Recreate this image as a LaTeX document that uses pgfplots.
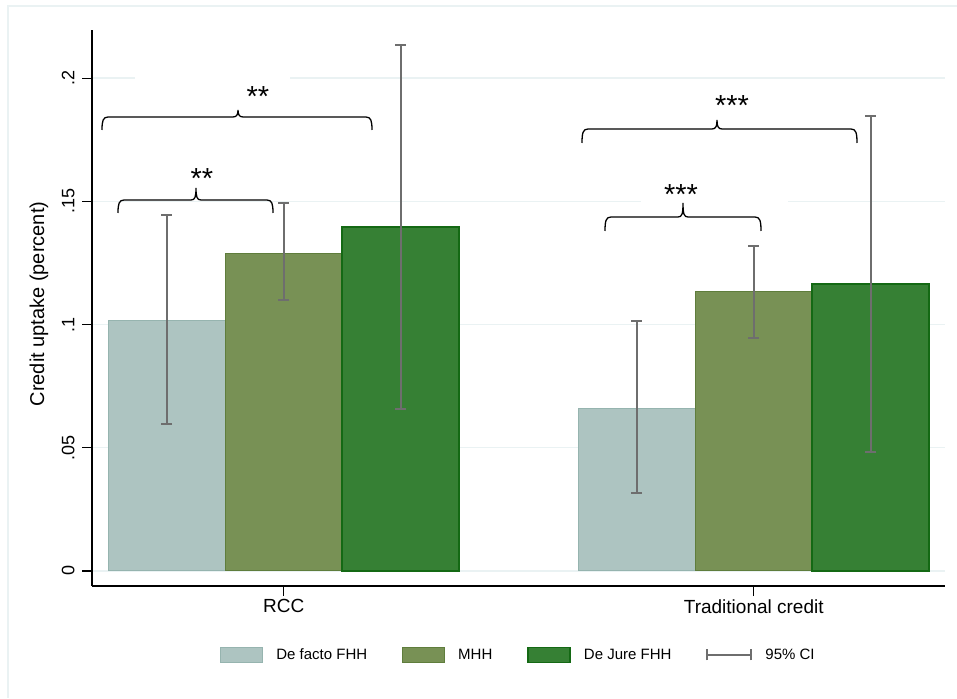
\documentclass[border=0pt]{standalone}
\usepackage{pgfplots}
\pgfplotsset{compat=1.18}
\usepackage{pgfplotstable}
\usepackage{fontspec}
\setmainfont{Liberation Sans}
\definecolor{dfFill}{RGB}{173,196,193}
\definecolor{dfEdge}{RGB}{150,180,175}
\definecolor{mhhFill}{RGB}{120,145,85}
\definecolor{mhhEdge}{RGB}{95,125,60}
\definecolor{djFill}{RGB}{54,128,52}
\definecolor{djEdge}{RGB}{20,105,20}
\definecolor{ciC}{RGB}{110,110,110}
\definecolor{gridC}{RGB}{234,242,243}

% x: 0 = RCC, 1 = Traditional credit (bars shifted by 0.249)
\pgfplotstableread{
x y ep em
-0.249 0.1018 0.0426 0.0422
0.751 0.0661 0.0353 0.0345
}\dfdata
\pgfplotstableread{
x y ep em
0 0.1290 0.0203 0.0191
1 0.1132 0.0186 0.0187
}\mhhdata
\pgfplotstableread{
x y ep em
0.249 0.1395 0.0739 0.0738
1.249 0.1164 0.0682 0.0681
}\djdata

\newcommand{\Brace}[6]{% x1 x2 xtip yline yend ytip (image px, y down)
 \draw[line width=1.3pt, black] (#1,#5) .. controls (#1,{#4+4}) and ({#1+1},#4) .. ({#1+6},#4)
 -- ({#3-5},#4) .. controls ({#3-1},#4) and (#3,{#4-3}) .. (#3,#6)
 .. controls (#3,{#4-3}) and ({#3+1},#4) .. ({#3+5},#4)
 -- ({#2-6},#4) .. controls ({#2-1},#4) and (#2,{#4+4}) .. (#2,#5);}

\begin{document}
\begin{tikzpicture}
\begin{axis}[
  at={(0,0)}, anchor=south west, scale only axis,
  width=853pt, height=556pt,
  xmin=-0.408, xmax=1.407, ymin=-0.00609, ymax=0.2195,
  axis x line*=bottom, axis y line*=left,
  axis line style={-, black, line width=1.1pt},
  xtick={0,1}, xticklabels={RCC,Traditional credit},
  ytick={0,0.05,0.1,0.15,0.2}, yticklabels={0,.05,.1,.15,.2},
  tick align=outside, major tick length=10pt,
  tick style={black, line width=1.1pt},
  ymajorgrids, grid style={color=gridC, line width=1.4pt},
  yticklabel style={xshift=-4pt, rotate=90, anchor=south, font=\fontsize{18}{18}\selectfont},
  xticklabel style={font=\fontsize{19}{19}\selectfont},
  every axis y label/.style={at={(rel axis cs:0,0.5)}, xshift=-53pt, yshift=4pt, rotate=90, anchor=center, font=\fontsize{20}{20}\selectfont},
  ylabel={Credit uptake (percent)},
  legend style={at={(0.5,-0.124)}, anchor=center, draw=none, fill=none,
    font=\fontsize{15}{15}\selectfont, legend columns=4,
    /tikz/every odd column/.append style={column sep=11pt},
    /tikz/every even column/.append style={column sep=33pt}},
  legend cell align=left,
]
\addplot[ybar, bar width=0.249, bar shift=0pt, fill=dfFill, draw=dfEdge, line width=1pt,
  legend image code/.code={\draw[fill=dfFill, draw=dfEdge, line width=1pt] (0pt,-7.5pt) rectangle (42pt,7.5pt);},
  error bars/.cd, y dir=both, y explicit,
  error bar style={ciC, line width=2pt},
  error mark options={ciC, line width=2pt, mark size=5.5pt, rotate=90}]
  table[x=x, y=y, y error plus=ep, y error minus=em]{\dfdata};
\addlegendentry{De facto FHH}
\addplot[ybar, bar width=0.249, bar shift=0pt, fill=mhhFill, draw=mhhEdge, line width=1pt,
  legend image code/.code={\draw[fill=mhhFill, draw=mhhEdge, line width=1pt] (0pt,-7.5pt) rectangle (42pt,7.5pt);},
  error bars/.cd, y dir=both, y explicit,
  error bar style={ciC, line width=2pt},
  error mark options={ciC, line width=2pt, mark size=5.5pt, rotate=90}]
  table[x=x, y=y, y error plus=ep, y error minus=em]{\mhhdata};
\addlegendentry{MHH}
\addplot[ybar, bar width=0.249, bar shift=0pt, fill=djFill, draw=djEdge, line width=1.6pt,
  legend image code/.code={\draw[fill=djFill, draw=djEdge, line width=1.6pt] (0pt,-7.5pt) rectangle (42pt,7.5pt);},
  error bars/.cd, y dir=both, y explicit,
  error bar style={ciC, line width=2pt},
  error mark options={ciC, line width=2pt, mark size=5.5pt, rotate=90}]
  table[x=x, y=y, y error plus=ep, y error minus=em]{\djdata};
\addlegendentry{De Jure FHH}
\addlegendimage{legend image code/.code={
  \draw[ciC, line width=2pt] (0pt,0pt) -- (44pt,0pt);
  \draw[ciC, line width=2pt] (0pt,-5.5pt) -- (0pt,5.5pt);
  \draw[ciC, line width=2pt] (44pt,-5.5pt) -- (44pt,5.5pt);}}
\addlegendentry{95\% CI}
\end{axis}
\begin{scope}[shift={(-92pt,586pt)}, yscale=-1, x=1pt, y=1pt]
  % outer frame
  \draw[gridC, line width=1.5pt] (8,698) -- (8,6) -- (957,6);
  % gaps in grid lines behind the labels
  \fill[white] (135,75) rectangle (290,81);
  \fill[white] (641,198) rectangle (788,204);
  % braces
  \Brace{118}{273}{196}{200}{213}{188}
  \Brace{102}{372}{238}{117}{130}{110}
  \Brace{605}{761}{683}{217}{231}{203}
  \Brace{582}{857}{717}{129}{143}{120}
  \node[font=\fontsize{29}{29}\selectfont, anchor=base, inner sep=0pt] at (202,189) {**};
  \node[font=\fontsize{29}{29}\selectfont, anchor=base, inner sep=0pt] at (258,106.5) {**};
  \node[font=\fontsize{29}{29}\selectfont, anchor=base, inner sep=0pt] at (681,204.5) {***};
  \node[font=\fontsize{29}{29}\selectfont, anchor=base, inner sep=0pt] at (732,116) {***};
  \pgfresetboundingbox
  \path[use as bounding box] (0,0) rectangle (957,698);
\end{scope}
\end{tikzpicture}
\end{document}
